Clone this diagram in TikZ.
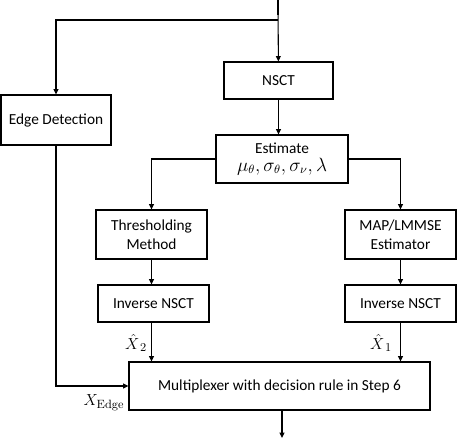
\documentclass[tikz,border=0pt]{standalone}
\usepackage[no-math]{fontspec}
\setmainfont{Carlito}
\usetikzlibrary{arrows.meta,positioning}
\tikzset{
  >={Triangle[length=4pt,width=3.6pt]},
  blk/.style={draw,line width=0.8pt,inner sep=0pt,align=center,
    font=\fontsize{11.5}{14}\selectfont},
  flow/.style={->,line width=0.8pt},
  flow/.default=black,
  tag/.style={inner sep=0pt,font=\fontsize{13}{15}\selectfont},
}
\begin{document}
\begin{tikzpicture}[x=0.75pt,y=-0.75pt]
  \useasboundingbox (0,0) rectangle (457,439);
  % boxes
  \node[blk,minimum width=82.5pt,minimum height=37.5pt] (edge) at (56,120) {Edge Detection};
  \node[blk,minimum width=81.75pt,minimum height=27.75pt] (nsct) at (278.5,80.5) {NSCT};
  \node[blk,minimum width=99pt,minimum height=36pt] (est) at (282,159)
    {Estimate\\[-1pt]{\fontsize{13.5}{14}\selectfont$\mu_\theta,\sigma_\theta,\sigma_\nu,\lambda$}};
  \node[blk,minimum width=83.25pt,minimum height=36.75pt] (thr) at (151.5,234.5) {Thresholding\\Method};
  \node[blk,minimum width=83.25pt,minimum height=36.75pt] (map) at (400.5,234.5) {MAP/LMMSE\\Estimator};
  \node[blk,minimum width=83.25pt,minimum height=27.75pt] (invl) at (153.5,303.5) {Inverse NSCT};
  \node[blk,minimum width=83.25pt,minimum height=27.75pt] (invr) at (400.5,303.5) {Inverse NSCT};
  \node[blk,minimum width=225.75pt,minimum height=36pt] (mux) at (279.5,386) {Multiplexer with decision rule in Step 6};
  % input and output
  \coordinate (in) at (278,0);
  \coordinate (inthick) at (278,15);
  \coordinate (split) at (278,20);
  \coordinate (out) at (282,438);
  \draw[line width=1.5pt] (in) -- (inthick);
  \draw[flow] (in) -- (nsct);
  \draw[flow] (split) -| (edge);
  \draw[flow] (nsct.south) -- (nsct.south |- est.north);
  \draw[flow,line width=1.2pt] (est.west) -| (thr);
  \draw[flow,line width=1.2pt] (est.east) -| (map);
  \draw[flow] (thr) -- (thr |- invl.north);
  \draw[flow,line width=1.2pt] (map) -- (invr);
  \draw[flow] (thr |- invl.south) -- (thr |- mux.north);
  \draw[flow,line width=1.2pt] (invr.south) -- (invr.south |- mux.north);
  \draw[flow] (edge) |- (mux.west);
  \draw[flow] (mux.south -| out) -- (out);
  % labels
  \node[tag] (x2) at (136,343) {$\hat{X}_{\,2}$};
  \node[tag] (x1) at (381,343) {$\hat{X}_{\,1}$};
  \node[tag] (xe) at (104,403) {$X_{\mathrm{Edge}}$};
\end{tikzpicture}
\end{document}
